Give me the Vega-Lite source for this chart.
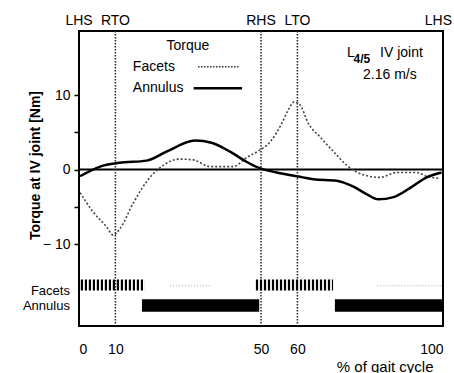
{
  "$schema": "https://vega.github.io/schema/vega-lite/v6.json",
  "width": 364,
  "height": 295,
  "autosize": "none",
  "padding": {"left": 79, "top": 31, "right": 11, "bottom": 47},
  "background": "white",
  "config": {
    "font": "Liberation Sans",
    "view": {"stroke": "black", "strokeWidth": 2},
    "axis": {"grid": false, "labelColor": "black", "titleColor": "black", "tickColor": "black"}
  },
  "datasets": {
    "torque": [
      {"series": "Annulus", "pct": 0.3, "nm": -0.9},
      {"series": "Annulus", "pct": 5.8, "nm": 0.4},
      {"series": "Annulus", "pct": 11, "nm": 0.9},
      {"series": "Annulus", "pct": 18.6, "nm": 1.2},
      {"series": "Annulus", "pct": 24, "nm": 2.4},
      {"series": "Annulus", "pct": 31.9, "nm": 3.9},
      {"series": "Annulus", "pct": 36.4, "nm": 3.6},
      {"series": "Annulus", "pct": 41.5, "nm": 2.4},
      {"series": "Annulus", "pct": 46, "nm": 1.05},
      {"series": "Annulus", "pct": 49.3, "nm": 0.25},
      {"series": "Annulus", "pct": 54.3, "nm": -0.4},
      {"series": "Annulus", "pct": 61.5, "nm": -1.05},
      {"series": "Annulus", "pct": 64.4, "nm": -1.3},
      {"series": "Annulus", "pct": 70.8, "nm": -1.5},
      {"series": "Annulus", "pct": 75.4, "nm": -2.3},
      {"series": "Annulus", "pct": 79, "nm": -3.3},
      {"series": "Annulus", "pct": 82.2, "nm": -4.0},
      {"series": "Annulus", "pct": 86.4, "nm": -3.7},
      {"series": "Annulus", "pct": 90.9, "nm": -2.5},
      {"series": "Annulus", "pct": 95.5, "nm": -1.05},
      {"series": "Annulus", "pct": 99.6, "nm": -0.4},
      {"series": "Facets", "pct": 0.3, "nm": -3.1},
      {"series": "Facets", "pct": 3.9, "nm": -5.7},
      {"series": "Facets", "pct": 7.6, "nm": -7.7},
      {"series": "Facets", "pct": 9.4, "nm": -8.8},
      {"series": "Facets", "pct": 11.3, "nm": -7.9},
      {"series": "Facets", "pct": 14.9, "nm": -4.5},
      {"series": "Facets", "pct": 18.6, "nm": -1.6},
      {"series": "Facets", "pct": 23.2, "nm": 0.6},
      {"series": "Facets", "pct": 27.7, "nm": 1.4},
      {"series": "Facets", "pct": 31.4, "nm": 1.3},
      {"series": "Facets", "pct": 36, "nm": 0.4},
      {"series": "Facets", "pct": 42.4, "nm": 0.4},
      {"series": "Facets", "pct": 46, "nm": 1.6},
      {"series": "Facets", "pct": 49.3, "nm": 2.5},
      {"series": "Facets", "pct": 52.5, "nm": 3.7},
      {"series": "Facets", "pct": 55.7, "nm": 6.2},
      {"series": "Facets", "pct": 57.5, "nm": 8.0},
      {"series": "Facets", "pct": 59.1, "nm": 9.1},
      {"series": "Facets", "pct": 60.7, "nm": 8.7},
      {"series": "Facets", "pct": 63, "nm": 6.2},
      {"series": "Facets", "pct": 66.2, "nm": 4.4},
      {"series": "Facets", "pct": 70.8, "nm": 1.95},
      {"series": "Facets", "pct": 73.5, "nm": 0.6},
      {"series": "Facets", "pct": 78.1, "nm": -0.7},
      {"series": "Facets", "pct": 82.7, "nm": -1.05},
      {"series": "Facets", "pct": 87.3, "nm": -0.4},
      {"series": "Facets", "pct": 92.8, "nm": -0.4},
      {"series": "Facets", "pct": 95.5, "nm": -0.9},
      {"series": "Facets", "pct": 99.2, "nm": -1.2}
    ],
    "events": [
      {"event": "LHS", "pct": 0},
      {"event": "RTO", "pct": 10},
      {"event": "RHS", "pct": 50},
      {"event": "LTO", "pct": 60},
      {"event": "LHS", "pct": 100}
    ],
    "activity": [
      {"series": "Facets", "level": "high", "start": 0.5, "end": 18.1},
      {"series": "Facets", "level": "high", "start": 48.6, "end": 69.8},
      {"series": "Facets", "level": "low", "start": 25, "end": 36},
      {"series": "Facets", "level": "low", "start": 82, "end": 99.7},
      {"series": "Annulus", "level": "high", "start": 17.3, "end": 49.5},
      {"series": "Annulus", "level": "high", "start": 70.3, "end": 100}
    ]
  },
  "layer": [
    {
      "data": {"values": [{"nm": 0}]},
      "mark": {"type": "rule", "color": "black", "strokeWidth": 2},
      "encoding": {"y": {"field": "nm", "type": "quantitative"}}
    },
    {
      "data": {"name": "events"},
      "transform": [{"filter": "datum.pct > 0 && datum.pct < 100"}],
      "mark": {"type": "rule", "color": "#222", "strokeWidth": 1.5, "strokeDash": [1.5, 1.5]},
      "encoding": {"x": {"field": "pct", "type": "quantitative"}}
    },
    {
      "data": {"name": "events"},
      "transform": [{"filter": "datum.pct < 100"}],
      "mark": {"type": "text", "fontSize": 14, "baseline": "middle", "align": "center", "color": "black"},
      "encoding": {
        "x": {"field": "pct", "type": "quantitative"},
        "y": {"datum": 19.9, "type": "quantitative"},
        "text": {"field": "event"}
      }
    },
    {
      "data": {"name": "events"},
      "transform": [{"filter": "datum.pct == 100"}],
      "mark": {"type": "text", "fontSize": 14, "baseline": "middle", "align": "right", "dx": 9, "color": "black"},
      "encoding": {
        "x": {"field": "pct", "type": "quantitative"},
        "y": {"datum": 19.9, "type": "quantitative"},
        "text": {"field": "event"}
      }
    },
    {
      "data": {"name": "torque"},
      "transform": [{"filter": "datum.series == 'Facets'"}],
      "mark": {"type": "line", "color": "#444", "strokeWidth": 1.6, "strokeDash": [2, 2], "interpolate": "monotone"},
      "encoding": {
        "x": {"field": "pct", "type": "quantitative"},
        "y": {"field": "nm", "type": "quantitative"}
      }
    },
    {
      "data": {"name": "torque"},
      "transform": [{"filter": "datum.series == 'Annulus'"}],
      "mark": {"type": "line", "color": "black", "strokeWidth": 2.5, "interpolate": "monotone"},
      "encoding": {
        "x": {
          "field": "pct", "type": "quantitative",
          "scale": {"domain": [0, 100], "nice": false, "zero": false},
          "axis": {
            "values": [0, 10, 50, 60, 100], "domain": false, "ticks": false,
            "labelFontSize": 14, "labelPadding": 16,
            "title": "% of gait cycle", "titleFontSize": 15, "titleFontWeight": "normal",
            "titleAlign": "right", "titleBaseline": "middle", "titleX": 354, "titleY": 40
          }
        },
        "y": {
          "field": "nm", "type": "quantitative",
          "scale": {"domain": [-21, 18.6], "nice": false, "zero": false},
          "axis": {
            "values": [-10, -5, 0, 5, 10], "domain": false, "tickSize": 5, "tickWidth": 1.5,
            "labelExpr": "datum.value == 10 ? '10' : datum.value == 0 ? '0' : datum.value == -10 ? '\u2212 10' : ''",
            "labelFontSize": 14, "labelPadding": 4,
            "title": "Torque at IV joint [Nm]", "titleFontSize": 14, "titleFontWeight": "bold",
            "titleAngle": 270, "titleAlign": "center", "titleBaseline": "middle", "titleX": -44, "titleY": 134
          }
        }
      }
    },
    {
      "data": {"name": "activity"},
      "transform": [{"filter": "datum.series == 'Facets' && datum.level == 'high'"}],
      "mark": {"type": "rule", "color": "black", "strokeWidth": 11, "strokeDash": [2.2, 1.8]},
      "encoding": {
        "x": {"field": "start", "type": "quantitative"},
        "x2": {"field": "end"},
        "y": {"datum": -15.5, "type": "quantitative"}
      }
    },
    {
      "data": {"name": "activity"},
      "transform": [{"filter": "datum.series == 'Facets' && datum.level == 'low'"}],
      "mark": {"type": "rule", "color": "#aaa", "strokeWidth": 1, "strokeDash": [1, 2]},
      "encoding": {
        "x": {"field": "start", "type": "quantitative"},
        "x2": {"field": "end"},
        "y": {"datum": -15.6, "type": "quantitative"}
      }
    },
    {
      "data": {"name": "activity"},
      "transform": [{"filter": "datum.series == 'Annulus'"}],
      "mark": {"type": "rect", "color": "black"},
      "encoding": {
        "x": {"field": "start", "type": "quantitative"},
        "x2": {"field": "end"},
        "y": {"datum": -17.4, "type": "quantitative"},
        "y2": {"datum": -19.1}
      }
    },
    {
      "data": {"values": [{"label": "Facets", "nm": -16.3}, {"label": "Annulus", "nm": -18.3}]},
      "mark": {"type": "text", "fontSize": 13, "align": "right", "baseline": "middle", "color": "black"},
      "encoding": {
        "x": {"datum": -2.5, "type": "quantitative"},
        "y": {"field": "nm", "type": "quantitative"},
        "text": {"field": "label"}
      }
    },
    {
      "data": {"values": [{"label": "Torque", "pct": 29.9, "nm": 16.6}]},
      "mark": {"type": "text", "fontSize": 14, "align": "center", "baseline": "middle", "color": "black"},
      "encoding": {
        "x": {"field": "pct", "type": "quantitative"},
        "y": {"field": "nm", "type": "quantitative"},
        "text": {"field": "label"}
      }
    },
    {
      "data": {"values": [{"label": "Facets", "pct": 14.8, "nm": 13.8}, {"label": "Annulus", "pct": 14.8, "nm": 10.9}]},
      "mark": {"type": "text", "fontSize": 14, "align": "left", "baseline": "middle", "color": "black"},
      "encoding": {
        "x": {"field": "pct", "type": "quantitative"},
        "y": {"field": "nm", "type": "quantitative"},
        "text": {"field": "label"}
      }
    },
    {
      "data": {"values": [{"series": "Facets", "start": 32.7, "end": 44.2, "nm": 13.8}]},
      "mark": {"type": "rule", "color": "#333", "strokeWidth": 1.6, "strokeDash": [1.5, 1.5]},
      "encoding": {
        "x": {"field": "start", "type": "quantitative"},
        "x2": {"field": "end"},
        "y": {"field": "nm", "type": "quantitative"}
      }
    },
    {
      "data": {"values": [{"series": "Annulus", "start": 31.5, "end": 44.8, "nm": 10.9}]},
      "mark": {"type": "rule", "color": "black", "strokeWidth": 2.5},
      "encoding": {
        "x": {"field": "start", "type": "quantitative"},
        "x2": {"field": "end"},
        "y": {"field": "nm", "type": "quantitative"}
      }
    },
    {
      "data": {"values": [{"label": "L", "pct": 73.6, "nm": 15.6}, {"label": "IV joint", "pct": 82.7, "nm": 15.7}]},
      "mark": {"type": "text", "fontSize": 14, "align": "left", "baseline": "middle", "color": "black"},
      "encoding": {
        "x": {"field": "pct", "type": "quantitative"},
        "y": {"field": "nm", "type": "quantitative"},
        "text": {"field": "label"}
      }
    },
    {
      "data": {"values": [{"label": "4/5", "pct": 75.4, "nm": 14.9}]},
      "mark": {"type": "text", "fontSize": 12, "fontWeight": "bold", "align": "left", "baseline": "middle", "color": "black"},
      "encoding": {
        "x": {"field": "pct", "type": "quantitative"},
        "y": {"field": "nm", "type": "quantitative"},
        "text": {"field": "label"}
      }
    },
    {
      "data": {"values": [{"label": "2.16 m/s", "pct": 85.4, "nm": 12.75}]},
      "mark": {"type": "text", "fontSize": 14, "align": "center", "baseline": "middle", "color": "black"},
      "encoding": {
        "x": {"field": "pct", "type": "quantitative"},
        "y": {"field": "nm", "type": "quantitative"},
        "text": {"field": "label"}
      }
    }
  ]
}
